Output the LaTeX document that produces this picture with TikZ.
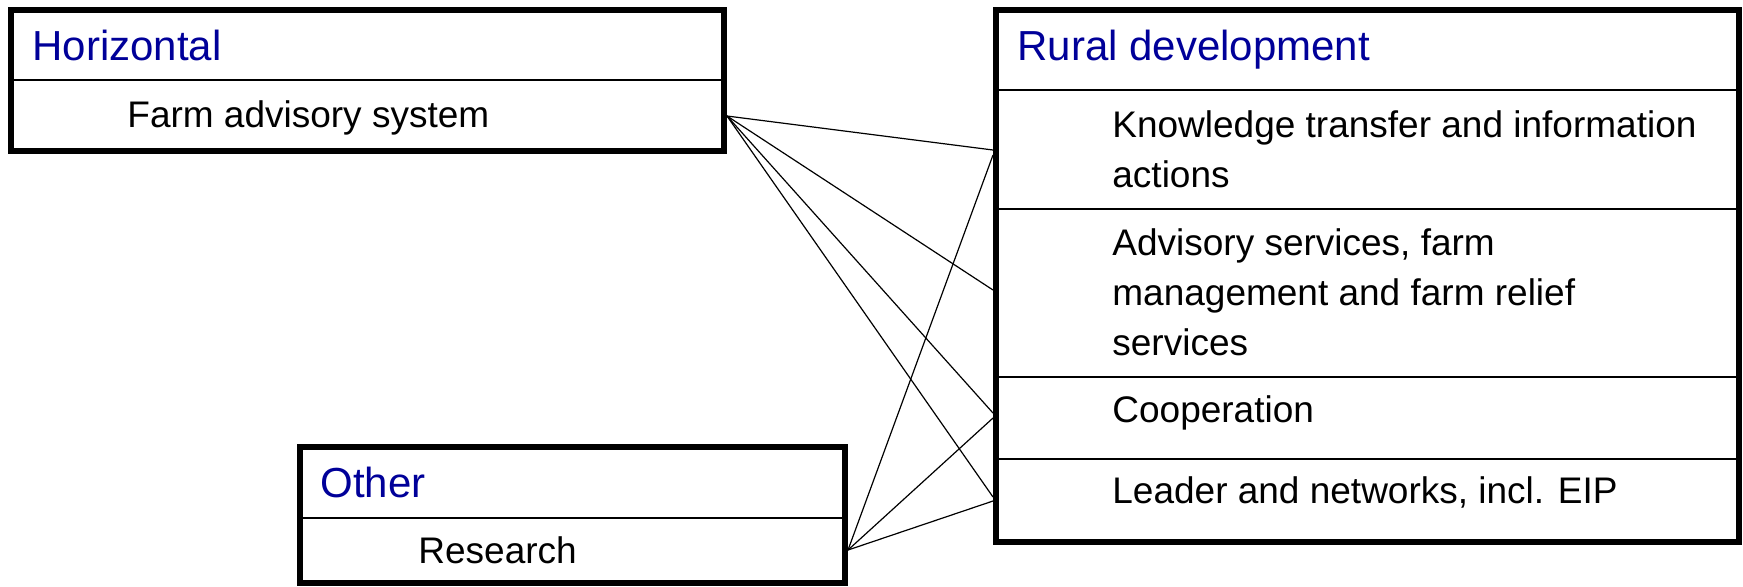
\documentclass[tikz,border=0pt]{standalone}
\usepackage{fontspec}
\setmainfont{Liberation Sans}
\definecolor{hdrblue}{RGB}{0,0,153}
\begin{document}
\begin{tikzpicture}[x=0.5pt,y=-0.5pt,
  frame/.style={line width=3pt, line join=miter},
  divider/.style={line width=1.2pt},
  link/.style={line width=0.6pt},
  hdr/.style={anchor=base west, inner sep=0pt, text=hdrblue, font=\fontsize{21}{25}\selectfont},
  body/.style={anchor=base west, inner sep=0pt, font=\fontsize{18.5}{25}\selectfont}]
\useasboundingbox (0,0) rectangle (1743,586);
% Horizontal box
\draw[divider] (11,80) -- (724,80);
\draw[frame] (11,9.5) rectangle (724,151);
\node[hdr] (hhdr) at (32,60) {Horizontal};
\node[body] (fas) at (127,127) {Farm advisory system};
% Rural development box
\draw[divider] (995.5,90) -- (1739,90);
\draw[divider] (995.5,209) -- (1739,209);
\draw[divider] (995.5,377) -- (1739,377);
\draw[divider] (995.5,459) -- (1739,459);
\draw[frame] (995.5,9.5) rectangle (1739,542);
\node[hdr] (rhdr) at (1017,60) {Rural development};
\node[body] (kt) at (1112,137) {\parbox[t]{600pt}{\raggedright Knowledge transfer and information\\actions}};
\node[body] (adv) at (1112,255) {\parbox[t]{600pt}{\raggedright Advisory services, farm\\management and farm relief\\services}};
\node[body] (coop) at (1112,422) {Cooperation};
\node[body] (lead) at (1112,503) {Leader and networks, incl. EIP};
% Other box
\draw[divider] (300,518) -- (845,518);
\draw[frame] (300,447) rectangle (845,583);
\node[hdr] (ohdr) at (320,497) {Other};
\node[body] (res) at (418,563) {Research};
% connector ends
\coordinate (hsrc) at (727,116);
\coordinate (osrc) at (848,550);
\coordinate (hkt) at (993,150);
\coordinate (hadv) at (993,290);
\coordinate (hcoop) at (993,413);
\coordinate (hlead) at (993,497);
\coordinate (okt) at (993,155);
\coordinate (ocoop) at (993,418);
\coordinate (olead) at (993,501);
\draw[link] (hsrc) -- (hkt);
\draw[link] (hsrc) -- (hadv);
\draw[link] (hsrc) -- (hcoop);
\draw[link] (hsrc) -- (hlead);
\draw[link] (osrc) -- (okt);
\draw[link] (osrc) -- (ocoop);
\draw[link] (osrc) -- (olead);
\end{tikzpicture}
\end{document}
